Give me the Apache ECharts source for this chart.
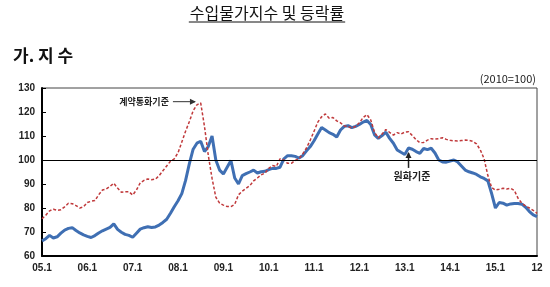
<!DOCTYPE html>
<html>
<head>
<meta charset="utf-8">
<script src="https://cdn.jsdelivr.net/npm/echarts@6/dist/echarts.min.js"></script>
<style>
  html, body { margin: 0; padding: 0; background: #fff; }
  #chart { width: 550px; height: 287px; }
</style>
</head>
<body>
<div id="chart"></div>
<script>
// 수입물가지수 (2010=100), 2005.1 ~ 2015.12 월별
const years = ['05', '06', '07', '08', '09', '10', '11', '12', '13', '14', '15'];
const categories = [];
years.forEach(function(y) {
  for (let m = 1; m <= 12; m++) categories.push(y + '.' + m);
});

const yTicks = [60, 70, 80, 90, 100, 110, 120, 130];

// 원화기준
const wonBasis = [
  66.3, 67.2, 68.6, 67.5, 68.0, 69.5, 70.8, 71.5, 71.8, 70.6, 69.6, 68.8,
  68.2, 67.7, 68.5, 69.6, 70.5, 71.2, 71.9, 73.4, 71.1, 69.9, 69.0, 68.6,
  67.8, 69.5, 71.2, 71.8, 72.2, 71.9, 72.1, 72.9, 74.0, 75.3, 77.8, 80.5,
  83.0, 86.0, 91.5, 98.5, 104.5, 107.0, 107.8, 103.5, 105.6, 110.0, 100.0, 95.8,
  94.2, 97.0, 99.8, 92.5, 90.0, 93.5, 94.3, 95.0, 95.8, 94.6, 95.1, 95.3,
  96.0, 96.5, 96.5, 97.0, 100.5, 101.8, 101.8, 101.5, 100.8, 101.8, 103.8, 105.6,
  108.0, 110.8, 113.5, 112.5, 111.4, 110.7, 109.6, 112.5, 114.0, 114.3, 113.5, 114.0,
  114.8, 115.8, 116.5, 114.8, 110.5, 109.0, 110.2, 111.6, 109.0, 107.0, 104.2, 103.2,
  102.3, 105.0, 104.5, 103.5, 102.8, 104.8, 104.3, 104.9, 102.9, 100.0, 99.2, 99.1,
  99.6, 100.0, 99.2, 97.5, 95.8, 95.1, 94.6, 94.0, 93.0, 92.3, 91.3, 86.0,
  80.0, 82.3, 82.0, 81.2, 81.7, 81.9, 81.9, 81.6, 80.3, 78.5, 77.1, 76.4
];

// 계약통화기준
const contractBasis = [
  75.5, 77.0, 78.8, 79.5, 79.0, 79.3, 80.5, 82.0, 81.8, 81.0, 80.0, 80.5,
  82.3, 82.8, 83.1, 85.5, 87.5, 87.9, 89.0, 90.3, 88.3, 86.6, 86.8, 86.8,
  85.4, 87.5, 90.5, 91.5, 92.1, 91.8, 92.0, 93.5, 95.5, 97.5, 99.5, 100.5,
  103.0, 107.5, 112.0, 116.0, 120.5, 123.0, 123.8, 114.0, 102.0, 92.4, 84.5, 82.0,
  81.2, 80.6, 80.6, 81.5, 85.5, 87.0, 88.2, 89.3, 91.3, 92.5, 93.8, 94.5,
  96.5, 97.7, 97.3, 100.5, 100.0, 98.6, 98.6, 99.8, 100.5, 102.5, 105.0, 108.3,
  112.0, 115.8, 118.0, 119.2, 117.4, 117.7, 116.3, 115.5, 114.2, 113.9, 113.3, 114.0,
  115.5, 117.7, 118.9, 116.7, 111.5, 109.2, 110.8, 112.7, 111.5, 110.4, 111.4, 110.8,
  111.6, 111.8, 110.2, 108.5, 107.2, 107.3, 108.3, 108.9, 108.7, 108.9, 109.3, 108.6,
  108.2, 108.0, 107.9, 108.1, 108.3, 108.2, 107.8, 106.7, 104.2, 100.5, 93.5, 88.5,
  87.5, 87.8, 88.2, 87.9, 88.2, 87.3, 84.0, 82.0, 80.8, 80.0, 79.0, 77.8
];

const last = categories.length - 1;
const fontKR = '"Noto Sans CJK KR", "Noto Sans", sans-serif';
const titleText = '수입물가지수 및 등락률';
const titleFont = '16px ' + fontKR;

// 제목 밑줄 길이
const ctx = document.createElement('canvas').getContext('2d');
ctx.font = titleFont;
const titleW = ctx.measureText(titleText).width;
const titleX = 267;

const dom = document.getElementById('chart');
const chart = echarts.init(dom);
const option = {
  animation: false,
  grid: {
    left: 42,
    right: 13,
    top: 88,
    bottom: 31,
    show: true,
    borderColor: '#444',
    borderWidth: 1,
  },
  xAxis: {
    type: 'category',
    data: categories,
    boundaryGap: false,
    axisLine: {lineStyle: {color: '#000', width: 2}},
    axisTick: {show: false},
    axisLabel: {
      interval: function(i) { return i % 12 === 0 || i === last; },
      formatter: function(v, i) { return i === last ? v.split('.')[1] : v; },
      color: '#222',
      fontSize: 10,
      fontWeight: 'bold',
      fontFamily: 'Liberation Sans, Arial, sans-serif',
      margin: 7,
      showMaxLabel: true,
    },
    splitLine: {show: false},
  },
  yAxis: {
    type: 'value',
    min: yTicks[0],
    max: yTicks[yTicks.length - 1],
    interval: 10,
    axisLine: {show: true, lineStyle: {color: '#000', width: 2}},
    axisTick: {show: true, inside: true, length: 4, lineStyle: {color: '#000'}},
    axisLabel: {
      color: '#222',
      fontSize: 10,
      fontWeight: 'bold',
      fontFamily: 'Liberation Sans, Arial, sans-serif',
      margin: 7,
    },
    splitLine: {show: false},
  },
  series: [{
    name: '계약통화기준',
    type: 'line',
    data: contractBasis,
    symbol: 'none',
    lineStyle: {color: '#c0393b', width: 1.5, type: [3, 2]},
    z: 3,
  }, {
    name: '원화기준',
    type: 'line',
    data: wonBasis,
    symbol: 'none',
    lineStyle: {color: '#3f6fb3', width: 3},
    z: 2,
    markLine: {
      silent: true,
      symbol: 'none',
      label: {show: false},
      lineStyle: {color: '#000', width: 1, type: 'solid'},
      data: [{yAxis: 100}],
    },
  }],
};
chart.setOption(option);

// 주석 위치는 데이터 좌표에서 계산
const redPeak = chart.convertToPixel({seriesIndex: 0}, [41, 124.3]);
const bluePt = chart.convertToPixel({seriesIndex: 1}, [97, 104.2]);

chart.setOption({
  graphic: [
    {
      type: 'text', x: titleX, y: 13,
      style: {text: titleText, font: titleFont, fill: '#111', align: 'center', verticalAlign: 'middle'},
    },
    {
      type: 'line', shape: {x1: titleX - titleW / 2 - 1, y1: 22, x2: titleX + titleW / 2 + 1, y2: 22},
      style: {stroke: '#111', lineWidth: 1},
    },
    {
      type: 'text', left: 13, top: 47,
      style: {text: '가. 지 수', font: 'bold 17px ' + fontKR, fill: '#111'},
    },
    {
      type: 'text', right: 14, top: 73,
      style: {text: '(2010=100)', font: '11px ' + fontKR, fill: '#222'},
    },
    {
      type: 'text', x: redPeak[0] - 28, y: redPeak[1],
      style: {text: '계약통화기준', font: 'bold 9px ' + fontKR, fill: '#222', align: 'right', verticalAlign: 'middle'},
    },
    {
      type: 'line', shape: {x1: redPeak[0] - 24, y1: redPeak[1], x2: redPeak[0] - 2, y2: redPeak[1]},
      style: {stroke: '#333', lineWidth: 1},
    },
    {
      type: 'polygon',
      shape: {points: [[redPeak[0] - 1, redPeak[1]], [redPeak[0] - 7, redPeak[1] - 3], [redPeak[0] - 7, redPeak[1] + 3]]},
      style: {fill: '#333'},
    },
    {
      type: 'line', shape: {x1: bluePt[0], y1: bluePt[1] + 3, x2: bluePt[0], y2: bluePt[1] + 18},
      style: {stroke: '#222', lineWidth: 1.5},
    },
    {
      type: 'polygon',
      shape: {points: [[bluePt[0], bluePt[1] + 2], [bluePt[0] - 3, bluePt[1] + 8], [bluePt[0] + 3, bluePt[1] + 8]]},
      style: {fill: '#222'},
    },
    {
      type: 'text', x: bluePt[0] - 15, y: bluePt[1] + 21,
      style: {text: '원화기준', font: 'bold 10px ' + fontKR, fill: '#222'},
    },
  ],
});
</script>
</body>
</html>
